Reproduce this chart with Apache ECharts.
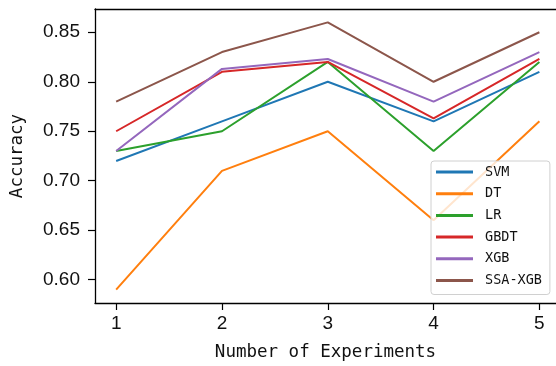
<!DOCTYPE html>
<html>
<head>
<meta charset="utf-8">
<script src="https://cdn.jsdelivr.net/npm/echarts@6/dist/echarts.min.js"></script>
<style>html,body{margin:0;padding:0;background:#fff;}#c{width:556px;height:366px;}</style>
</head>
<body>
<div id="c"></div>
<script>
const experiments = [1, 2, 3, 4, 5];
const svm    = [0.72, 0.76, 0.80, 0.76, 0.81];
const dt     = [0.59, 0.71, 0.75, 0.66, 0.76];
const lr     = [0.73, 0.75, 0.82, 0.73, 0.82];
const gbdt   = [0.75, 0.81, 0.82, 0.763, 0.823];
const xgb    = [0.73, 0.813, 0.823, 0.78, 0.83];
const ssaXgb = [0.78, 0.83, 0.86, 0.80, 0.85];
const seriesNames = ['SVM', 'DT', 'LR', 'GBDT', 'XGB', 'SSA-XGB'];
const seriesValues = [svm, dt, lr, gbdt, xgb, ssaXgb];
const colors = ['#1f77b4', '#ff7f0e', '#2ca02c', '#d62728', '#9467bd', '#8c564b'];
const yTicks = [0.60, 0.65, 0.70, 0.75, 0.80, 0.85];
const xTicks = [1, 2, 3, 4, 5];

const chart = echarts.init(document.getElementById('c'), null, {renderer: 'canvas'});
const nameFont = {fontFamily: 'DejaVu Sans Mono', fontSize: 17.5, color: '#111'};
chart.setOption({
  animation: false,
  color: colors,
  grid: {left: 95, top: 9, right: 0, bottom: 63, show: false},
  xAxis: [{
    type: 'value', min: 0.8, max: 5.157,
    name: 'Number of Experiments', nameLocation: 'middle', nameGap: 40,
    nameTextStyle: nameFont,
    axisLine: {show: true, onZero: false, lineStyle: {color: '#000', width: 1.3}},
    axisTick: {show: true, length: 7, lineStyle: {color: '#000', width: 1.2}, customValues: xTicks},
    axisLabel: {customValues: xTicks, margin: 11, fontFamily: 'Liberation Sans', fontSize: 19, color: '#111', formatter: v => String(v)},
    splitLine: {show: false}
  }, {
    type: 'value', min: 0.8, max: 5.157, position: 'top',
    axisLine: {show: true, onZero: false, lineStyle: {color: '#000', width: 1.3}},
    axisTick: {show: false}, axisLabel: {show: false}, splitLine: {show: false}
  }],
  yAxis: {
    type: 'value', min: 0.5765, max: 0.8735,
    name: 'Accuracy', nameLocation: 'middle', nameGap: 69, nameRotate: 90,
    nameTextStyle: nameFont,
    axisLine: {show: true, onZero: false, lineStyle: {color: '#000', width: 1.3}},
    axisTick: {show: true, length: 7, lineStyle: {color: '#000', width: 1.2}, customValues: yTicks},
    axisLabel: {customValues: yTicks, margin: 15, fontFamily: 'Liberation Sans', fontSize: 19, color: '#111', formatter: v => v.toFixed(2)},
    splitLine: {show: false}
  },
  legend: {
    orient: 'vertical', left: 431, top: 161,
    data: seriesNames,
    icon: 'rect', itemWidth: 37, itemHeight: 3, itemGap: 7.7,
    padding: [4, 8, 7, 5],
    backgroundColor: 'rgba(255,255,255,0.8)', borderColor: '#d0d0d0', borderWidth: 1, borderRadius: 3,
    textStyle: {fontFamily: 'DejaVu Sans Mono', fontSize: 13.5, lineHeight: 14, color: '#111', padding: [0, 0, 0, 7]},
    z: 10
  },
  series: seriesNames.map((name, i) => ({
    name: name, type: 'line', symbol: 'none', xAxisIndex: 0,
    lineStyle: {width: 2},
    data: experiments.map((x, j) => [x, seriesValues[i][j]])
  }))
});
</script>
</body>
</html>
